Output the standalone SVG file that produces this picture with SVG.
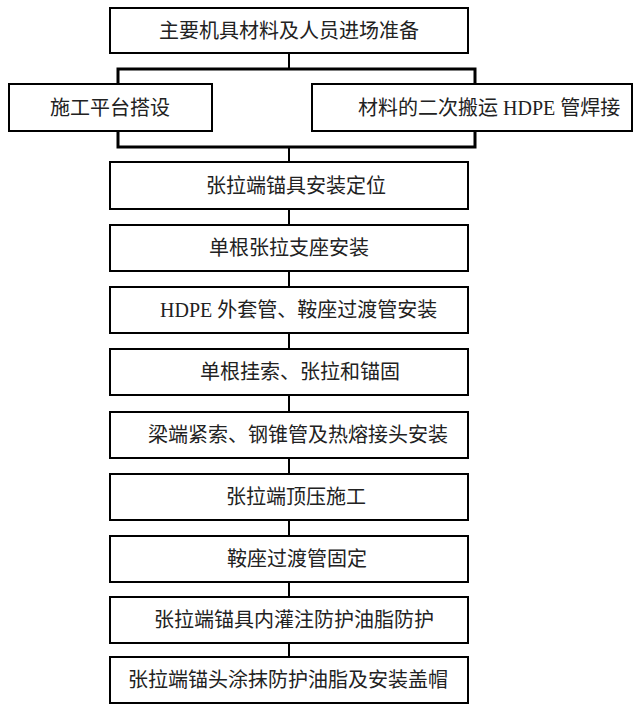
<svg xmlns="http://www.w3.org/2000/svg" width="635" height="705" viewBox="0 0 635 705">
<style>
.box{fill:#fff;stroke:#000;stroke-width:2}
.t{font-family:"Liberation Serif","Noto Sans CJK SC",serif;font-size:20px;fill:#222}
.c{fill:none;stroke:#000;stroke-width:2}
.b{fill:none;stroke:#000;stroke-width:3}
</style>
<rect width="635" height="705" fill="#fff"/>
<g id="connectors">
<line class="c" x1="289" y1="53" x2="289" y2="69"/>
<polyline class="b" points="118,84 118,69 475,69 475,84"/>
<polyline class="b" points="118,131 118,147 475,147 475,131"/>
<line class="c" x1="289" y1="147" x2="289" y2="162"/>
<line class="c" x1="289" y1="209" x2="289" y2="225"/>
<line class="c" x1="289" y1="271" x2="289" y2="287"/>
<line class="c" x1="289" y1="333" x2="289" y2="349"/>
<line class="c" x1="289" y1="395" x2="289" y2="412"/>
<line class="c" x1="289" y1="458" x2="289" y2="474"/>
<line class="c" x1="289" y1="520" x2="289" y2="536"/>
<line class="c" x1="289" y1="582" x2="289" y2="597"/>
<line class="c" x1="289" y1="643" x2="289" y2="657"/>
</g>
<g id="n1"><rect class="box" x="110" y="8" width="358" height="45"/><text class="t" x="289" y="38" text-anchor="middle">主要机具材料及人员进场准备</text></g>
<g id="n2"><rect class="box" x="9" y="84" width="203" height="47"/><text class="t" x="110" y="115" text-anchor="middle">施工平台搭设</text></g>
<g id="n3"><rect class="box" x="312" y="84" width="320" height="47"/><text class="t" x="358" y="115">材料的二次搬运 HDPE 管焊接</text></g>
<g id="n4"><rect class="box" x="110" y="162" width="358" height="47"/><text class="t" x="296" y="193" text-anchor="middle">张拉端锚具安装定位</text></g>
<g id="n5"><rect class="box" x="110" y="225" width="358" height="46"/><text class="t" x="289" y="255" text-anchor="middle">单根张拉支座安装</text></g>
<g id="n6"><rect class="box" x="110" y="287" width="358" height="46"/><text class="t" x="160" y="317">HDPE 外套管、鞍座过渡管安装</text></g>
<g id="n7"><rect class="box" x="110" y="349" width="358" height="46"/><text class="t" x="300" y="379" text-anchor="middle">单根挂索、张拉和锚固</text></g>
<g id="n8"><rect class="box" x="110" y="412" width="358" height="46"/><text class="t" x="148" y="442">梁端紧索、钢锥管及热熔接头安装</text></g>
<g id="n9"><rect class="box" x="110" y="474" width="358" height="46"/><text class="t" x="296" y="504" text-anchor="middle">张拉端顶压施工</text></g>
<g id="n10"><rect class="box" x="110" y="536" width="358" height="46"/><text class="t" x="297" y="566" text-anchor="middle">鞍座过渡管固定</text></g>
<g id="n11"><rect class="box" x="110" y="597" width="358" height="46"/><text class="t" x="294" y="627" text-anchor="middle">张拉端锚具内灌注防护油脂防护</text></g>
<g id="n12"><rect class="box" x="110" y="657" width="358" height="46"/><text class="t" x="288" y="687" text-anchor="middle">张拉端锚头涂抹防护油脂及安装盖帽</text></g>
</svg>
